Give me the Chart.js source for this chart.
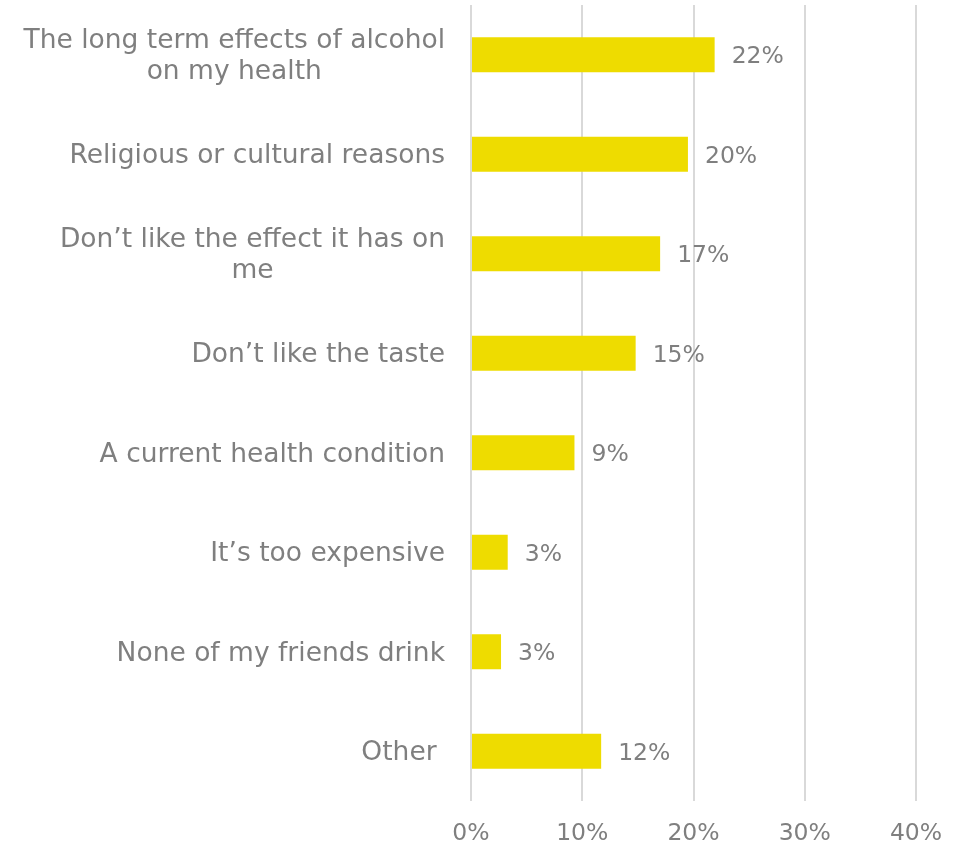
<!DOCTYPE html>
<html>
<head>
<meta charset="utf-8">
<script src="https://cdn.jsdelivr.net/npm/chart.js@4/dist/chart.umd.min.js"></script>
<style>
  html, body { margin: 0; padding: 0; background: #fff; }
  #wrap { width: 967px; height: 845px; }
</style>
</head>
<body>
<div id="wrap"><canvas id="reasonsChart"></canvas></div>
<script>
// Reasons for not drinking alcohol (share of respondents, %)
const reasons = [
  ["The long term effects of alcohol", "on my health"],
  "Religious or cultural reasons",
  ["Don\u2019t like the effect it has on", "me"],
  "Don\u2019t like the taste",
  "A current health condition",
  "It\u2019s too expensive",
  "None of my friends drink",
  "Other "
];
const shares = [21.9, 19.5, 17.0, 14.8, 9.3, 3.3, 2.7, 11.7];
const xTicks = [0, 10, 20, 30, 40];

const TEXT = "#7f7f7f";
const FONT = "'DejaVu Sans', Verdana, sans-serif";

// category labels: right edge lined up, wrapped lines centred on each other
const categoryLabels = {
  id: "categoryLabels",
  afterDraw(chart) {
    const ctx = chart.ctx;
    const y = chart.scales.y;
    ctx.save();
    ctx.font = "26.5px " + FONT;
    ctx.fillStyle = TEXT;
    ctx.textBaseline = "middle";
    ctx.textAlign = "center";
    const right = y.right - 26;
    const lineH = 31;
    reasons.forEach((lab, i) => {
      const lines = Array.isArray(lab) ? lab : [lab];
      const widest = Math.max(...lines.map(l => ctx.measureText(l).width));
      const cx = right - widest / 2;
      const cy = y.getPixelForValue(i) + 2;
      const start = cy - (lines.length - 1) * lineH / 2;
      lines.forEach((l, k) => ctx.fillText(l, cx, start + k * lineH));
    });
    ctx.restore();
  }
};

// value labels just past the end of each bar
const valueLabels = {
  id: "valueLabels",
  afterDatasetsDraw(chart) {
    const ctx = chart.ctx;
    const meta = chart.getDatasetMeta(0);
    ctx.save();
    ctx.font = "23.5px " + FONT;
    ctx.fillStyle = TEXT;
    ctx.textBaseline = "middle";
    ctx.textAlign = "left";
    meta.data.forEach((bar, i) => {
      ctx.fillText(Math.round(shares[i]) + "%", bar.x + 17, bar.y + 2.5);
    });
    ctx.restore();
  }
};

new Chart(document.getElementById("reasonsChart"), {
  type: "bar",
  data: {
    labels: reasons,
    datasets: [{
      data: shares,
      backgroundColor: "#eedc00",
      borderWidth: 0,
      barPercentage: 0.35,
      categoryPercentage: 1
    }]
  },
  options: {
    indexAxis: "y",
    responsive: true,
    maintainAspectRatio: false,
    animation: false,
    layout: { padding: { top: 5, right: 51, bottom: 0, left: 0 } },
    plugins: {
      legend: { display: false },
      tooltip: { enabled: false }
    },
    scales: {
      x: {
        min: 0,
        max: 40,
        afterBuildTicks: axis => { axis.ticks = xTicks.map(v => ({ value: v })); },
        afterFit: axis => { axis.height = 44; },
        grid: { color: "#d9d9d9", lineWidth: 2, drawTicks: false },
        border: { display: false },
        ticks: {
          padding: 19,
          maxRotation: 0,
          color: TEXT,
          font: { family: FONT, size: 23.5 },
          callback: v => v + "%"
        }
      },
      y: {
        grid: { display: false },
        border: { display: false },
        ticks: { display: false },
        afterFit: axis => { axis.width = 471; }
      }
    }
  },
  plugins: [categoryLabels, valueLabels]
});
</script>
</body>
</html>
